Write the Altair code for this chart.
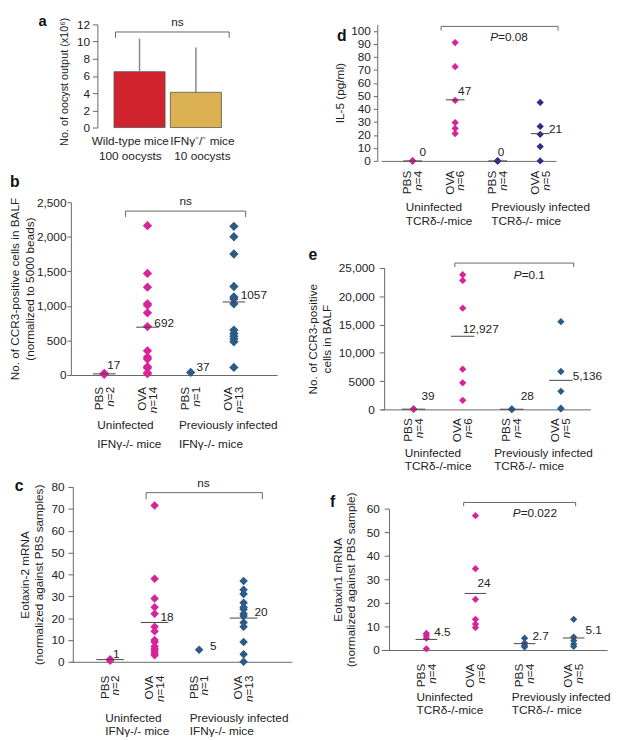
import altair as alt
import pandas as pd

FONT = "Liberation Sans"
PINK = "#d8239b"
BLUE = "#2c5b88"
NAVY = "#2c2e8e"
RED = "#d0232e"
GOLD = "#dcb152"
TXT = "#222222"
AX = "#666666"

# ---------------- data ----------------
cond = ["PBS", "OVA", "PBS", "OVA"]
groups_ifng = ["Uninfected\nIFNγ-/- mice", "Previously infected\nIFNγ-/- mice"]
groups_tcr = ["Uninfected\nTCRδ-/-mice", "Previously infected\nTCRδ-/- mice"]

# panel a
a_groups = ["Wild-type mice\n100 oocysts", "IFNγ⁻/⁻ mice\n10 oocysts"]
a_mean = [6.5, 4.1]
a_upper = [10.35, 9.3]

# panel b: CCR3+ cells in BALF (IFNg-/-)
b_n = [2, 14, 1, 13]
b_uninf_pbs = [10, 24]
b_uninf_ova = [2160, 1470, 1270, 1030, 1010, 900, 700, 350, 260, 230, 120, 100, 30, 20]
b_prev_pbs = [37]
b_prev_ova = [2150, 2000, 1750, 1280, 1130, 1100, 1030, 650, 600, 560, 520, 480, 110]
b_mean = [17, 692, 37, 1057]
b_mean_txt = ["17", "692", "37", "1057"]

# panel c: Eotaxin-2 mRNA
c_n = [2, 14, 1, 13]
c_uninf_pbs = [0.5, 1.2]
c_uninf_ova = [71.5, 38, 29, 25, 22, 16, 14, 10, 9, 7, 6, 5, 4, 3]
c_prev_pbs = [5.5]
c_prev_ova = [37, 33, 31, 27, 25, 24, 22, 21, 18, 16, 9, 3.5, 0]
c_mean = [1, 18, 5, 20]
c_mean_txt = ["1", "18", "5", "20"]

# panel d: IL-5
d_n = [4, 6, 4, 5]
d_uninf_pbs = [0, 0, 0, 0]
d_uninf_ova = [91, 72.5, 46.5, 29.5, 25, 21]
d_prev_pbs = [0, 0, 0, 0]
d_prev_ova = [45, 26.5, 20.5, 11, 0]
d_mean = [0, 47, 0, 21]
d_mean_txt = ["0", "47", "0", "21"]

# panel e: CCR3+ cells (TCRd-/-)
e_n = [4, 6, 4, 5]
e_uninf_pbs = [30, 40, 45, 40]
e_uninf_ova = [23800, 22800, 17900, 7100, 4700, 1600]
e_prev_pbs = [20, 30, 35, 27]
e_prev_ova = [15500, 6700, 3200, 200, 80]
e_mean = [39, 12927, 28, 5136]
e_mean_txt = ["39", "12,927", "28", "5,136"]

# panel f: Eotaxin1 mRNA
f_n = [4, 6, 4, 5]
f_uninf_pbs = [7, 6, 5, 0.5]
f_uninf_ova = [57, 34.5, 21.5, 13, 11, 9.5]
f_prev_pbs = [5, 3, 2, 1.3]
f_prev_ova = [13, 5.5, 4, 2.5, 1.5]
f_mean = [4.5, 24, 2.7, 5.1]
f_mean_txt = ["4.5", "24", "2.7", "5.1"]


def letter_layer(letter, lx, ly, size=16):
    return alt.Chart(pd.DataFrame({"t": [letter]})).mark_text(
        align="left", baseline="middle", fontSize=size, fontWeight="bold",
        font=FONT, color="#111111").encode(
        x=alt.value(lx), y=alt.value(ly), text="t:N")


def sig_layers(X, Y, sig):
    out = []
    br = pd.DataFrame({"pos": [sig["x1"], sig["x1"], sig["x2"], sig["x2"]],
                       "v": [sig["lo"], sig["hi"], sig["hi"], sig["lo"]],
                       "k": [0, 1, 2, 3]})
    out.append(alt.Chart(br).mark_line(color=AX, strokeWidth=1).encode(
        x=X, y=Y, order="k:Q"))
    if sig.get("p") is None:
        t = pd.DataFrame({"pos": [sig["tx"]], "v": [sig["ty"]], "t": ["ns"]})
        out.append(alt.Chart(t).mark_text(align="center", baseline="middle",
                                          fontSize=12, font=FONT, color=TXT).encode(
            x=X, y=Y, text="t:N"))
    else:
        t1 = pd.DataFrame({"pos": [sig["tx"]], "v": [sig["ty"]], "t": ["P"]})
        t2 = pd.DataFrame({"pos": [sig["tx"]], "v": [sig["ty"]], "t": [sig["p"]]})
        out.append(alt.Chart(t1).mark_text(align="right", baseline="middle", fontStyle="italic",
                                           fontSize=12, font=FONT, color=TXT).encode(
            x=X, y=Y, text="t:N"))
        out.append(alt.Chart(t2).mark_text(align="left", baseline="middle",
                                           fontSize=12, font=FONT, color=TXT).encode(
            x=X, y=Y, text="t:N"))
    return out


def dot_panel(letter, vals, ns, means, mean_txt, color, ytitle, yticks, sig, groups, L):
    W, H = L["w"], L["h"]
    X = alt.X("pos:Q", scale=alt.Scale(domain=L["xdom"], nice=False, zero=False),
              axis=alt.Axis(labels=False, ticks=False, grid=False, title=None,
                            domainColor=AX, domainWidth=1))
    ykw = dict(values=yticks, title=ytitle, grid=False, tickSize=L["tsz"], tickColor=AX,
               domainColor=AX, labelFontSize=12, labelColor=TXT, labelPadding=L["lpad"],
               labelFont=FONT, titleFont=FONT,
               titleFontSize=12, titleFontWeight="normal", titleColor=TXT,
               titlePadding=L["tpad"], titleLineHeight=L["tlh"], offset=L["yoff"],
               labelExpr=L["lexpr"])
    Y = alt.Y("v:Q", scale=alt.Scale(domain=L["ydom"], nice=False), axis=alt.Axis(**ykw))

    pts_u = pd.DataFrame([{"pos": i + 1, "v": v} for i, g in enumerate(vals[:2]) for v in g])
    pts_p = pd.DataFrame([{"pos": i + 3, "v": v} for i, g in enumerate(vals[2:]) for v in g])
    mdf = pd.DataFrame([{"pos": i + 1, "v": m} for i, (m, n) in enumerate(zip(means, ns)) if n > 1])

    layers = []
    layers.append(alt.Chart(pts_u).mark_point(shape="diamond", filled=True, size=L["ms"],
                                              color=PINK, opacity=1, strokeWidth=0).encode(x=X, y=Y))
    layers.append(alt.Chart(pts_p).mark_point(shape="diamond", filled=True, size=L["ms"],
                                              color=color, opacity=1, strokeWidth=0).encode(x=X, y=Y))
    layers.append(alt.Chart(mdf).mark_tick(orient="horizontal", size=L["tick"], thickness=1,
                                           color="#444444", opacity=1).encode(x=X, y=Y))
    for i, (m, t) in enumerate(zip(means, mean_txt)):
        df = pd.DataFrame({"pos": [i + 1], "v": [m], "t": [t]})
        layers.append(alt.Chart(df).mark_text(
            align="left", baseline="middle", dx=L["mdx"][i], dy=L["mdy"][i],
            fontSize=12, font=FONT, color=TXT).encode(x=X, y=Y, text="t:N"))
    layers += sig_layers(X, Y, sig)

    # rotated category labels: "PBS" / italic "n" + "=4"
    ytop = alt.value(H + L["cgap"])
    cl1 = pd.DataFrame({"pos": [1, 2, 3, 4], "t": cond})
    layers.append(alt.Chart(cl1).mark_text(
        angle=270, align="right", baseline="middle", dy=-5.5,
        fontSize=12, font=FONT, color=TXT).encode(x=X, y=ytop, text="t:N"))
    cl2 = pd.DataFrame({"pos": [1, 2, 3, 4], "t": [f"={n}" for n in ns]})
    layers.append(alt.Chart(cl2).mark_text(
        angle=270, align="right", baseline="middle", dy=5.5,
        fontSize=12, font=FONT, color=TXT).encode(x=X, y=ytop, text="t:N"))
    for i, n in enumerate(ns):
        w = 12 * (0.584 + 0.556 * len(str(n)))
        dfn = pd.DataFrame({"pos": [i + 1], "t": ["n"]})
        layers.append(alt.Chart(dfn).mark_text(
            angle=270, align="right", baseline="middle", dy=5.5, dx=-w, fontStyle="italic",
            fontSize=12, font=FONT, color=TXT).encode(x=X, y=ytop, text="t:N"))

    gl = pd.DataFrame({"pos": L["gx"], "t": groups})
    layers.append(alt.Chart(gl).mark_text(
        align="left", baseline="top", lineBreak="\n", lineHeight=L["glh"],
        fontSize=12, font=FONT, color=TXT).encode(
        x=X, y=alt.value(H + L["gy"]), text="t:N"))

    layers.append(letter_layer(letter, L["lx"], L["ly"]))
    return alt.layer(*layers).properties(width=W, height=H)


def bar_panel():
    W, H = 170, 105
    X = alt.X("pos:Q", scale=alt.Scale(domain=[-0.131, 2.656], nice=False, zero=False), axis=None)
    Y = alt.Y("v:Q", scale=alt.Scale(domain=[0, 12], nice=False), stack=None,
              axis=alt.Axis(values=list(range(0, 13, 2)), title="No. of oocyst output (x10⁶)",
                            grid=False, tickSize=5, tickColor=AX, domainColor=AX,
                            labelFontSize=12, labelColor=TXT, labelPadding=3,
                            labelFont=FONT, titleFont=FONT,
                            titleFontSize=11, titleFontWeight="normal", titleColor=TXT,
                            titlePadding=7, titleY=58, offset=-27))
    df = pd.DataFrame({"pos": [1, 2], "v": a_mean, "u": a_upper, "g": a_groups})
    bars = alt.Chart(df).mark_bar(size=52, orient="vertical", stroke="#555555",
                                  strokeWidth=0.8).encode(
        x=X, y=Y, color=alt.Color("g:N", scale=alt.Scale(domain=a_groups, range=[RED, GOLD]),
                                  legend=None))
    err = alt.Chart(df).mark_rule(color="#888888", strokeWidth=1.5).encode(x=X, y=Y, y2="u:Q")
    labdf = pd.DataFrame({"pos": [0.836, 2.115], "g": a_groups})
    lab = alt.Chart(labdf).mark_text(align="center", baseline="top", lineBreak="\n", lineHeight=15,
                                     fontSize=12, font=FONT, color=TXT).encode(
        x=X, y=alt.value(H + 9), text="g:N")
    sig = dict(x1=0.574, x2=2.59, hi=11.12, lo=10.43, tx=1.672, ty=12.26)
    layers = [bars, err, lab] + sig_layers(X, Y, sig) + [letter_layer("a", -33, -3, 15)]
    return alt.layer(*layers).properties(width=W, height=H)


big = "datum.value >= 10000 ? format(datum.value, ',') : format(datum.value, 'd')"

pa = bar_panel()
pb = dot_panel("b", [b_uninf_pbs, b_uninf_ova, b_prev_pbs, b_prev_ova], b_n, b_mean, b_mean_txt, BLUE,
               ["No. of CCR3-positive cells in BALF", "(normalized to 5000 beads)"],
               list(range(0, 2501, 500)),
               dict(x1=1.493, x2=4.272, hi=2371, lo=2286, tx=2.886, ty=2510), groups_ifng,
               dict(w=210, h=176, xdom=[0.227, 5.0], ydom=[0, 2500], lpad=1, tpad=0, tlh=15, yoff=0,
                    tsz=4, lexpr="format(datum.value, ',')", ms=90, tick=23, cgap=12, gx=[0.84, 2.727],
                    gy=46, glh=19, lx=-62, ly=-20, mdx=[3, 7, 6, 7], mdy=[-9, -4, -5, -7]))
pc = dot_panel("c", [c_uninf_pbs, c_uninf_ova, c_prev_pbs, c_prev_ova], c_n, c_mean, c_mean_txt, BLUE,
               ["Eotaxin-2 mRNA", "(normalized against PBS samples)"],
               list(range(0, 81, 10)),
               dict(x1=1.81, x2=4.422, hi=77.4, lo=74.4, tx=3.097, ty=81.7), groups_ifng,
               dict(w=225, h=178, xdom=[0.117, 5.084], ydom=[0, 80], lpad=4, tpad=6, tlh=14, yoff=-2,
                    tsz=5, lexpr="format(datum.value, 'd')", ms=75, tick=28, cgap=14, gx=[0.89, 2.788],
                    gy=52, glh=14, lx=-57, ly=-1, mdx=[3, 6, 11, 11], mdy=[-6, -5, -5, -6]))
pd_ = dot_panel("d", [d_uninf_pbs, d_uninf_ova, d_prev_pbs, d_prev_ova], d_n, d_mean, d_mean_txt, NAVY,
                "IL-5 (pg/ml)", list(range(0, 101, 10)),
                dict(x1=1.67, x2=4.42, hi=103.5, lo=100.3, tx=3.01, ty=95.5, p="=0.08"), groups_tcr,
                dict(w=178, h=139, xdom=[0.261, 4.372], ydom=[0, 105], lpad=3, tpad=4, tlh=14, yoff=4,
                     tsz=4, lexpr="format(datum.value, 'd')", ms=55, tick=19, cgap=10, gx=[0.838, 2.848],
                     gy=42, glh=14, lx=-45, ly=12, mdx=[7, 3, 0, 9], mdy=[-9, -9, -9, -5]))
pe = dot_panel("e", [e_uninf_pbs, e_uninf_ova, e_prev_pbs, e_prev_ova], e_n, e_mean, e_mean_txt, BLUE,
               ["No. of CCR3-positive", "cells in BALF"], list(range(0, 25001, 5000)),
               dict(x1=1.84, x2=4.26, hi=25868, lo=25174, tx=3.20, ty=23785, p="=0.1"), groups_tcr,
               dict(w=213, h=144, xdom=[0.34, 4.6], ydom=[0, 25000], lpad=5, tpad=5, tlh=14, yoff=-3,
                    tsz=5, lexpr=big, ms=55, tick=24, cgap=9, gx=[0.82, 2.64],
                    gy=39, glh=14, lx=-74, ly=-13, mdx=[8, 0, 9, 12], mdy=[-13, -7, -13, -4]))
pf = dot_panel("f", [f_uninf_pbs, f_uninf_ova, f_prev_pbs, f_prev_ova], f_n, f_mean, f_mean_txt, BLUE,
               ["Eotaxin1 mRNA", "(normalized against PBS sample)"], list(range(0, 61, 10)),
               dict(x1=1.76, x2=4.04, hi=62.6, lo=61, tx=2.92, ty=58.3, p="=0.022"), groups_tcr,
               dict(w=230, h=144, xdom=[0.08, 4.68], ydom=[0, 60], lpad=5, tpad=9, tlh=13, yoff=-8,
                    tsz=5, lexpr="format(datum.value, 'd')", ms=55, tick=22, cgap=14, gx=[0.80, 2.74],
                    gy=43, glh=13, lx=-52, ly=-7, mdx=[8, 2, 8, 12], mdy=[-7, -11, -8, -8]))

left = alt.vconcat(pa, alt.vconcat(pb, pc, spacing=28), spacing=13)
right = alt.vconcat(pd_, alt.vconcat(pe, pf, spacing=19), spacing=21)
chart = alt.hconcat(left, right, spacing=15).properties(padding=0).configure_view(
    stroke=None).configure_axis(labelFont=FONT, titleFont=FONT)

chart.save("out.html", embed_options={"renderer": "svg", "actions": False})
